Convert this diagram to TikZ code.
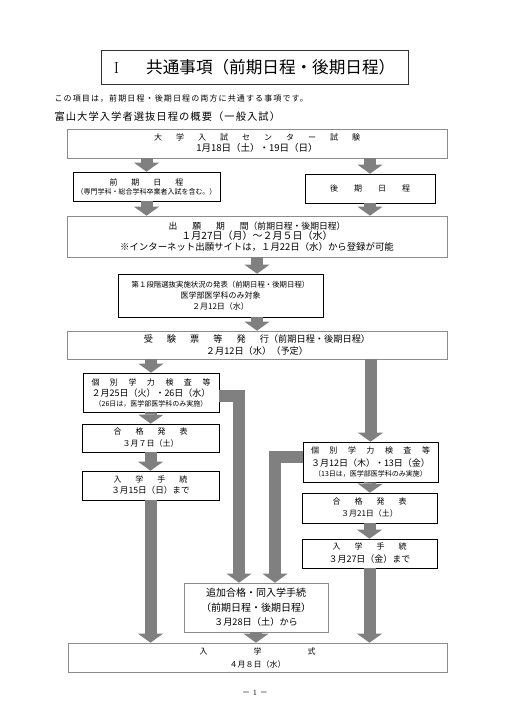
\documentclass[tikz,border=0pt]{standalone}
\usepackage{fontspec}
\newfontfamily\jp{Noto Sans CJK JP}
\usetikzlibrary{arrows.meta, positioning, calc}
\definecolor{seta}{RGB}{128,128,128}
\definecolor{moldura}{RGB}{140,140,140}
\newcommand{\jg}{\hspace{14pt}}
\newcommand{\jh}{\hspace{10.5pt}}

\begin{document}
\begin{tikzpicture}[x=1pt, y=-1pt,
    caixa/.style={draw=black, line width=0.6pt, fill=white, inner sep=0pt, align=center,
        font=\jp\fontsize{8}{12}\selectfont},
    caixalarga/.style={caixa, draw=moldura},
    fluxo/.style={draw=seta, line width=12pt, line join=miter,
        -{Triangle[width=25pt, length=9pt, line width=0pt]}}]
    \useasboundingbox (0,0) rectangle (509,720);
    % titulo
    \node[draw=black!80, line width=0.8pt, minimum width=307pt, minimum height=34pt,
        font=\fontsize{16}{16}\selectfont] (titulo) at (254.5,67)
        {I\hspace{1.7em}{\jp\fontsize{16.6}{17}\selectfont 共通事項（前期日程・後期日程）}};
    \node[anchor=west, font=\jp\fontsize{8}{9}\selectfont\addfontfeatures{LetterSpace=14}] (aviso) at (51,99)
        {この項目は，前期日程・後期日程の両方に共通する事項です。};
    \node[anchor=west, font=\jp\fontsize{10.3}{12}\selectfont\addfontfeatures{LetterSpace=10}] (subtitulo) at (51,117)
        {富山大学入学者選抜日程の概要（一般入試）};
    % caixas
    \node[caixalarga, minimum width=380pt, minimum height=29pt] (centro) at (257,143.5)
        {大\jg 学\jg 入\jg 試\jg セ\jg ン\jg タ\jg ー\jg 試\jg 験\\[-1pt]
         {\fontsize{9.5}{12}\selectfont 1月18日（土）・19日（日）}};
    \node[caixa, minimum width=147pt, minimum height=29pt] (zenki) at (146.5,186.5)
        {前\jg 期\jg 日\jg 程\\[-3pt] {\fontsize{7}{8}\selectfont （専門学科・総合学科卒業者入試を含む。）}};
    \node[caixa, minimum width=130pt, minimum height=29pt] (kouki) at (370,188.5)
        {後\hspace{16pt}期\hspace{16pt}日\hspace{16pt}程};
    \node[caixalarga, minimum width=380pt, minimum height=41pt, font=\jp\fontsize{8.8}{10}\selectfont] (shutsugan) at (257,236.5)
        {出\hspace{15pt}願\hspace{15pt}期\hspace{15pt}間（前期日程・後期日程）\\[0.5pt]
         {\fontsize{10}{10}\selectfont １月27日（月）～２月５日（水）}\\[0.5pt]
         {\fontsize{9.4}{10}\selectfont ※インターネット出願サイトは，１月22日（水）から登録が可能}};
    \node[caixa, minimum width=205pt, minimum height=43pt, font=\jp\fontsize{7.4}{11}\selectfont] (daiichi) at (220.5,295.5)
        {第１段階選抜実施状況の発表（前期日程・後期日程）\\ {\fontsize{8}{11}\selectfont 医学部医学科のみ対象}\\ {\fontsize{8}{11}\selectfont ２月12日（水）}};
    \node[caixalarga, minimum width=380pt, minimum height=28pt, font=\jp\fontsize{9.2}{12.5}\selectfont] (juken) at (257,345)
        {受\jg 験\jg 票\jg 等\jg 発\jg 行（前期日程・後期日程）\\ ２月12日（水）（予定）};
    % coluna do primeiro periodo
    \node[caixa, minimum width=136pt, minimum height=39pt, font=\jp\fontsize{8}{11}\selectfont] (kobetsuA) at (151,392.5)
        {個\jh 別\jh 学\jh 力\jh 検\jh 査\jh 等\\ {\fontsize{9}{11}\selectfont ２月25日（火）・26日（水）}\\[-1pt]
         {\fontsize{7}{8}\selectfont （26日は，医学部医学科のみ実施）}};
    \node[caixa, minimum width=137pt, minimum height=28pt] (goukakuA) at (150.5,438)
        {合\jg 格\jg 発\jg 表\\ ３月７日（土）};
    \node[caixa, minimum width=137pt, minimum height=29pt, font=\jp\fontsize{8}{11}\selectfont] (tetsuzukiA) at (150.5,485.5)
        {入\jg 学\jg 手\jg 続\\ {\fontsize{8.6}{11}\selectfont ３月15日（日）まで}};
    % coluna do segundo periodo
    \node[caixa, minimum width=135pt, minimum height=40pt, font=\jp\fontsize{8}{12.5}\selectfont] (kobetsuB) at (370.5,462)
        {個\jh 別\jh 学\jh 力\jh 検\jh 査\jh 等\\ {\fontsize{9}{12.5}\selectfont ３月12日（木）・13日（金）}\\[-2pt]
         {\fontsize{7}{8}\selectfont （13日は，医学部医学科のみ実施）}};
    \node[caixa, minimum width=135pt, minimum height=30pt] (goukakuB) at (369.5,508)
        {合\jg 格\jg 発\jg 表\\ ３月21日（土）};
    \node[caixa, minimum width=135pt, minimum height=29pt, font=\jp\fontsize{8}{13}\selectfont] (tetsuzukiB) at (369.5,553.5)
        {入\jg 学\jg 手\jg 続\\ {\fontsize{9}{13}\selectfont ３月27日（金）まで}};
    % final
    \node[caixalarga, minimum width=144pt, minimum height=49pt, font=\jp\fontsize{10}{14.5}\selectfont] (tsuika) at (256,607.5)
        {追加合格・同入学手続\\ （前期日程・後期日程）\\ {\fontsize{9.2}{14.5}\selectfont ３月28日（土）から}};
    \node[caixalarga, minimum width=379pt, minimum height=29pt, font=\jp\fontsize{8}{13}\selectfont] (nyugaku) at (257.5,657.5)
        {入\hspace{46pt}学\hspace{46pt}式\\ ４月８日（水）};
    \node[font=\fontsize{8}{10}\selectfont] (pagina) at (255,693) {{\jp －}\ 1\ {\jp －}};
    % setas
    \draw[fluxo] (centro.south -| zenki) -- (zenki.north);
    \draw[fluxo] (centro.south -| kouki) -- (kouki.north);
    \draw[fluxo] (zenki.south) -- (shutsugan.north -| zenki);
    \draw[fluxo] (kouki.south) -- (shutsugan.north -| kouki);
    \draw[fluxo] (shutsugan.south) -- (daiichi.north -| shutsugan);
    \draw[fluxo] (daiichi.south -| juken) -- (juken.north);
    \draw[fluxo] (juken.south -| kobetsuA) -- (kobetsuA.north);
    \draw[fluxo] (juken.south -| kobetsuB) -- (kobetsuB.north);
    \draw[fluxo] (kobetsuA) -- (goukakuA);
    \draw[fluxo] (goukakuA) -- (tetsuzukiA);
    \draw[fluxo] (kobetsuB) -- (goukakuB);
    \draw[fluxo] (goukakuB) -- (tetsuzukiB);
    \draw[fluxo] ([yshift=-3.5pt]kobetsuA.east) -| ([xshift=-17pt]tsuika.north);
    \draw[fluxo] ([yshift=5pt]kobetsuB.west) -| ([xshift=19pt]tsuika.north);
    \draw[fluxo] (tetsuzukiA.south) -- (nyugaku.north -| tetsuzukiA);
    \draw[fluxo] (tetsuzukiB.south) -- (nyugaku.north -| tetsuzukiB);
    \draw[fluxo] (tsuika.south) -- (nyugaku.north -| tsuika);
\end{tikzpicture}
\end{document}
